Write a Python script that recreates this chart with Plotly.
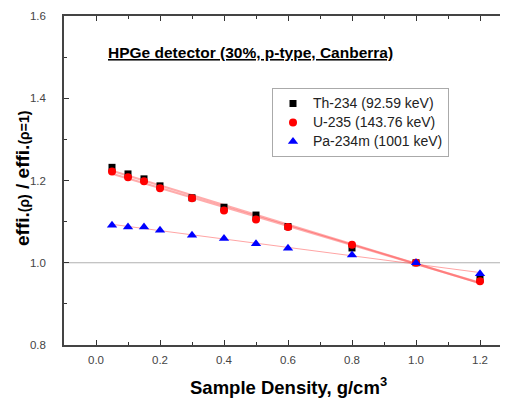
import numpy as np
import plotly.graph_objects as go

density = [0.05, 0.1, 0.15, 0.2, 0.3, 0.4, 0.5, 0.6, 0.8, 1.0, 1.2]
th234 = [1.232, 1.216, 1.204, 1.187, 1.158, 1.135, 1.116, 1.088, 1.036, 1.000, 0.960]
u235 = [1.222, 1.208, 1.198, 1.181, 1.157, 1.127, 1.105, 1.087, 1.044, 1.000, 0.955]
pa234m = [1.091, 1.087, 1.087, 1.079, 1.067, 1.059, 1.046, 1.035, 1.019, 1.000, 0.973]

names = ["Th-234 (92.59 keV)", "U-235 (143.76 keV)", "Pa-234m (1001 keV)"]
x_ticks = [0.0, 0.2, 0.4, 0.6, 0.8, 1.0, 1.2]
y_ticks = [0.8, 1.0, 1.2, 1.4, 1.6]

# page offset from default body margin
OFF = 8
# plot area in page pixels
L, R, T, B = 64, 508, 16, 345
PW, PH = R - L, B - T
FW, FH = 508 - OFF, 399 - OFF


def px(xp):
    return (xp - L) / PW


def py(yp):
    return (B - yp) / PH


fig = go.Figure()

x_arr = np.array(density)
x_fit = np.array([min(density), max(density)])
fit_styles = [
    (th234, "rgba(255,70,70,0.45)", 2.2),
    (u235, "rgba(255,70,70,0.45)", 2.2),
    (pa234m, "rgba(255,90,90,0.55)", 1.0),
]
for ys, col, w in fit_styles:
    k, b = np.polyfit(x_arr, np.array(ys), 1)
    fig.add_trace(go.Scatter(x=x_fit, y=k * x_fit + b, mode="lines",
                             line=dict(color=col, width=w), showlegend=False,
                             hoverinfo="skip"))

fig.add_trace(go.Scatter(x=density, y=th234, mode="markers",
                         name=f"<span style='font-size:14px'>{names[0]}</span>",
                         marker=dict(symbol="square", color="black", size=7)))
fig.add_trace(go.Scatter(x=density, y=u235, mode="markers",
                         name=f"<span style='font-size:14px'>{names[1]}</span>",
                         marker=dict(symbol="circle", color="#ff0000", size=8)))
fig.add_trace(go.Scatter(x=density, y=pa234m, mode="markers",
                         name=f"<span style='font-size:14px'>{names[2]}</span>",
                         marker=dict(symbol="triangle-up", color="#0000ff", size=9)))

fig.add_shape(type="line", xref="paper", x0=0, x1=1, yref="y", y0=1.0, y1=1.0,
              line=dict(color="#b0b0b0", width=1), layer="below")

fig.add_annotation(text="<b><u>HPGe detector (30%, p-type, Canberra)</u></b>",
                   xref="paper", yref="paper", x=px(106), y=py(52),
                   xanchor="left", yanchor="middle", showarrow=False,
                   font=dict(family="Liberation Sans, Arial", size=15.5, color="black"))

fig.add_annotation(text="<b>Sample Density, g/cm<sup>3</sup></b>",
                   xref="paper", yref="paper", x=px(288), y=py(386),
                   xanchor="center", yanchor="middle", showarrow=False,
                   font=dict(family="Liberation Sans, Arial", size=18.5, color="black"))

fig.add_annotation(text="<b>effi.<span style='font-size:14px'>(ρ)</span> / effi.<span style='font-size:14px'>(ρ=1)</span></b>",
                   xref="paper", yref="paper", x=px(22), y=py(179),
                   xanchor="center", yanchor="middle", showarrow=False, textangle=-90,
                   font=dict(family="Liberation Sans, Arial", size=19, color="black"))

fig.update_layout(
    width=FW, height=FH,
    margin=dict(l=L - OFF, r=FW - (R - OFF), t=T - OFF, b=FH - (B - OFF), autoexpand=False),
    paper_bgcolor="white", plot_bgcolor="white",
    font=dict(family="Liberation Sans, Arial", color="#333"),
    showlegend=True,
    legend=dict(x=px(272), y=py(88), xanchor="left", yanchor="top",
                bordercolor="#aaaaaa", borderwidth=1, bgcolor="white",
                font=dict(size=12, color="#222"), tracegroupgap=0,
                itemwidth=30),
    xaxis=dict(range=[-0.1, 1.2875], tickvals=x_ticks,
               ticktext=[f"{v:.1f}" for v in x_ticks],
               ticks="inside", ticklen=5, tickwidth=1.2, tickcolor="#333",
               showline=True, linecolor="#444", linewidth=1.5, mirror="ticks",
               showgrid=False, zeroline=False, automargin=False,
               tickfont=dict(size=11.5, color="#444"), ticklabelstandoff=3,
               minor=dict(tickvals=[0.1, 0.3, 0.5, 0.7, 0.9, 1.1], ticks="inside",
                          ticklen=3, tickcolor="#333")),
    yaxis=dict(range=[0.8, 1.6], tickvals=y_ticks,
               ticktext=[f"{v:.1f}" for v in y_ticks],
               ticks="inside", ticklen=5, tickwidth=1.2, tickcolor="#333",
               showline=True, linecolor="#444", linewidth=1.5, mirror=False,
               showgrid=False, zeroline=False, automargin=False,
               tickfont=dict(size=11.5, color="#444"), ticklabelstandoff=14,
               minor=dict(tickvals=[0.9, 1.1, 1.3, 1.5], ticks="inside",
                          ticklen=3, tickcolor="#333")),
)

fig.write_html("out.html")
